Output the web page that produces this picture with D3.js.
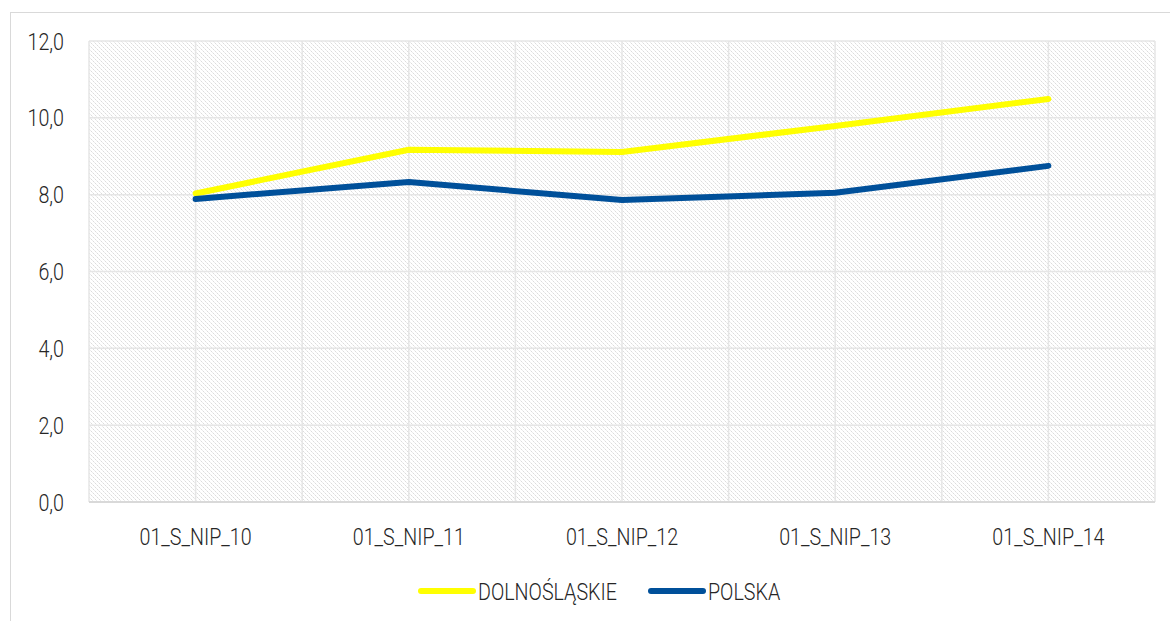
<!DOCTYPE html>
<html>
<head>
<meta charset="utf-8">
<script src="https://cdn.jsdelivr.net/npm/d3@7"></script>
<style>
  body { margin: 0; background: #fff; }
  text { font-family: "Roboto", sans-serif; fill: #262626; font-weight: 300; }
</style>
</head>
<body>
<div id="chart"></div>
<script>
const categories = ["01_S_NIP_10", "01_S_NIP_11", "01_S_NIP_12", "01_S_NIP_13", "01_S_NIP_14"];
const dolnoslaskie = [8.03, 9.17, 9.11, 9.79, 10.49];
const polska = [7.89, 8.33, 7.86, 8.05, 8.75];
const yTicks = [0, 2, 4, 6, 8, 10, 12];

const series = [
  { name: "DOLNOŚLĄSKIE", values: dolnoslaskie, color: "#ffff00" },
  { name: "POLSKA", values: polska, color: "#00509a" }
];

const W = 1170, H = 621;
const margin = { top: 41, right: 15, bottom: 119, left: 89 };
const width = W - margin.left - margin.right;
const height = H - margin.top - margin.bottom;
const squeeze = 0.82; // fake a condensed face

const svg = d3.select("#chart").append("svg")
  .attr("width", W).attr("height", H);

// outer frame
svg.append("rect")
  .attr("x", 10.5).attr("y", 12.5)
  .attr("width", W).attr("height", H)
  .attr("fill", "none").attr("stroke", "#d9d9d9");

// hatch pattern, pixel diagonal
const defs = svg.append("defs");
const pat = defs.append("pattern")
  .attr("id", "hatch")
  .attr("patternUnits", "userSpaceOnUse")
  .attr("width", 4).attr("height", 4);
d3.range(4).forEach(i => {
  pat.append("rect")
    .attr("x", i).attr("y", i).attr("width", 1).attr("height", 1)
    .attr("fill", i % 2 ? "#ececec" : "#dcdcdc");
});

const g = svg.append("g").attr("transform", `translate(${margin.left},${margin.top})`);

const x = d3.scaleBand().domain(categories).range([0, width]);
const y = d3.scaleLinear().domain([0, 12]).range([height, 0]);

g.append("rect")
  .attr("width", width).attr("height", height)
  .attr("shape-rendering", "crispEdges")
  .attr("fill", "url(#hatch)");

// vertical gridlines at band edges and centres
const vLines = [];
categories.forEach(c => {
  vLines.push(x(c));
  vLines.push(x(c) + x.bandwidth() / 2);
});
vLines.push(width);
g.selectAll(".vgrid").data(vLines).enter().append("line")
  .attr("x1", d => d).attr("x2", d => d)
  .attr("y1", 0).attr("y2", height)
  .attr("stroke", "#e6e6e6").attr("stroke-width", 1.5);

// horizontal gridlines
g.selectAll(".hgrid").data(yTicks).enter().append("line")
  .attr("x1", 0).attr("x2", width)
  .attr("y1", d => y(d)).attr("y2", d => y(d))
  .attr("stroke", d => d === 0 ? "#d9d9d9" : "#e6e6e6")
  .attr("stroke-width", d => d === 0 ? 2 : 1.5);

// condensed label helper
function label(parent, tx, ty, str, anchor) {
  parent.append("text")
    .attr("transform", `translate(${tx},${ty}) scale(${squeeze},1)`)
    .attr("dy", "0.36em")
    .attr("text-anchor", anchor)
    .style("font-size", "24px")
    .text(str);
}

// y axis labels
const fmt = d => d.toFixed(1).replace(".", ",");
yTicks.forEach(d => label(g, -25, y(d), fmt(d), "end"));

// x axis labels
categories.forEach(d => label(g, x(d) + x.bandwidth() / 2, height + 34, d, "middle"));

// lines
const line = d3.line()
  .x((d, i) => x(categories[i]) + x.bandwidth() / 2)
  .y(d => y(d));

g.selectAll(".series").data(series).enter().append("path")
  .attr("d", d => line(d.values))
  .attr("fill", "none")
  .attr("stroke", d => d.color)
  .attr("stroke-width", 6)
  .attr("stroke-linecap", "round")
  .attr("stroke-linejoin", "round");

// legend
const legend = svg.append("g").attr("transform", "translate(0,591)");
const legX = [418, 648];
series.forEach((s, i) => {
  legend.append("line")
    .attr("x1", legX[i] + 3).attr("x2", legX[i] + 55)
    .attr("y1", 0).attr("y2", 0)
    .attr("stroke", s.color).attr("stroke-width", 6)
    .attr("stroke-linecap", "round");
  label(legend, legX[i] + 60, 0, s.name, "start");
});
</script>
</body>
</html>
